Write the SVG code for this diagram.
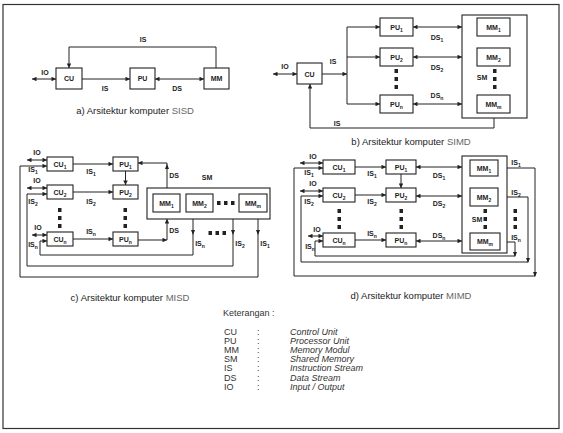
<svg xmlns="http://www.w3.org/2000/svg" width="563" height="433" viewBox="0 0 563 433">
<defs>
<style>
.b{fill:#fff;stroke:#222;stroke-width:1.1}
.l{fill:none;stroke:#222;stroke-width:1}
.a{marker-end:url(#ah)}
.d{marker-start:url(#ah);marker-end:url(#ah)}
.t{font-family:"Liberation Sans",Arial,sans-serif;font-size:7px;font-weight:bold;fill:#222;text-anchor:middle}
.s{font-size:5px}
.cap{font-family:"Liberation Sans",Arial,sans-serif;font-size:9.5px;fill:#222;text-anchor:middle}
.g{fill:#666}
.leg{font-family:"Liberation Sans",Arial,sans-serif;font-size:9px;fill:#333}
.it{font-style:italic}
.dot{fill:#222}
</style>
<marker id="ah" viewBox="0 0 6 6" refX="6" refY="3" markerWidth="5" markerHeight="4.5" orient="auto-start-reverse" markerUnits="userSpaceOnUse"><path d="M0,0 L6,3 L0,6 z" fill="#222"/></marker>
</defs>
<rect x="0" y="0" width="563" height="433" fill="#fff"/>
<rect x="3" y="4.5" width="556" height="424" fill="none" stroke="#333" stroke-width="1.2"/>

<g id="connectors">
<!-- SISD -->
<line class="l d" x1="32" y1="79" x2="56" y2="79"/>
<line class="l a" x1="82" y1="79" x2="130" y2="79"/>
<line class="l d" x1="155" y1="79" x2="204" y2="79"/>
<path class="l a" d="M216,68 V47 H69 V68"/>
<!-- SIMD -->
<line class="l d" x1="273" y1="74" x2="297" y2="74"/>
<line class="l a" x1="322" y1="74" x2="347" y2="74"/>
<line class="l" x1="347" y1="27" x2="347" y2="104"/>
<line class="l a" x1="347" y1="27" x2="380" y2="27"/>
<line class="l a" x1="347" y1="57" x2="380" y2="57"/>
<line class="l a" x1="347" y1="104" x2="380" y2="104"/>
<line class="l d" x1="413" y1="27" x2="462" y2="27"/>
<line class="l d" x1="413" y1="57" x2="462" y2="57"/>
<line class="l d" x1="413" y1="104" x2="462" y2="104"/>
<path class="l a" d="M494,118 V128 H310 V84"/>
<!-- MISD -->
<line class="l d" x1="27" y1="160" x2="47" y2="160"/>
<line class="l d" x1="27" y1="188" x2="47" y2="188"/>
<line class="l d" x1="32" y1="235" x2="47" y2="235"/>
<line class="l a" x1="73" y1="164" x2="113" y2="164"/>
<line class="l a" x1="73" y1="192" x2="113" y2="192"/>
<line class="l a" x1="73" y1="239" x2="113" y2="239"/>
<line class="l a" x1="125.5" y1="171" x2="125.5" y2="185"/>
<path class="l a" d="M167,188 V163 H138"/>
<path class="dot" d="M167,164 L165,169 L169,169 z"/>
<line class="l a" x1="138" y1="240" x2="167" y2="240"/>
<line class="l a" x1="167" y1="240" x2="167" y2="219"/>
<path class="l a" d="M258,219 V277 H20 V166 H47"/>
<path class="l a" d="M233,219 V266 H27 V194 H47"/>
<path class="l a" d="M193,219 V255 H40 V241 H47"/>
<path class="dot" d="M191,230 L195,230 L193,235 z M231,230 L235,230 L233,235 z M256,230 L260,230 L258,235 z"/>
<!-- MIMD -->
<line class="l d" x1="300" y1="163" x2="323" y2="163"/>
<line class="l d" x1="300" y1="191" x2="323" y2="191"/>
<line class="l d" x1="308" y1="236" x2="323" y2="236"/>
<line class="l a" x1="355" y1="167" x2="386" y2="167"/>
<line class="l a" x1="355" y1="195" x2="386" y2="195"/>
<line class="l a" x1="355" y1="240" x2="386" y2="240"/>
<line class="l a" x1="401" y1="174" x2="401" y2="188"/>
<line class="l d" x1="416" y1="167" x2="462" y2="167"/>
<line class="l d" x1="416" y1="196" x2="462" y2="196"/>
<line class="l d" x1="416" y1="241" x2="462" y2="241"/>
<path class="l a" d="M507,168 H535 V276 H294 V168 H323"/>
<path class="l a" d="M507,197 H528 V262 H301 V196 H323"/>
<path class="l a" d="M507,242 H515 V256 H315 V241 H323"/>
<path class="dot" d="M533,272 L537,272 L535,277 z M526,258 L530,258 L528,263 z M513,252 L517,252 L515,257 z"/>
</g>

<g id="sisd">
<g id="sisd-cu"><rect class="b" x="56" y="68" width="26" height="21"/><text class="t" x="69" y="81">CU</text></g>
<g id="sisd-pu"><rect class="b" x="130" y="68" width="25" height="21"/><text class="t" x="142.5" y="81">PU</text></g>
<g id="sisd-mm"><rect class="b" x="204" y="68" width="25" height="21"/><text class="t" x="216.5" y="81">MM</text></g>
<text class="t" x="45" y="75">IO</text>
<text class="t" x="143" y="42">IS</text>
<text class="t" x="105" y="91">IS</text>
<text class="t" x="177" y="91">DS</text>
<text class="cap" x="135" y="114">a) Arsitektur komputer <tspan class="g">SISD</tspan></text>
</g>

<g id="simd">
<g id="simd-cu"><rect class="b" x="297" y="63" width="25" height="21"/><text class="t" x="309.5" y="76.5">CU</text></g>
<g id="simd-pu1"><rect class="b" x="380" y="18" width="33" height="18"/><text class="t" x="396.5" y="29.5">PU<tspan class="s" dy="2">1</tspan></text></g>
<g id="simd-pu2"><rect class="b" x="380" y="48" width="33" height="18"/><text class="t" x="396.5" y="59.5">PU<tspan class="s" dy="2">2</tspan></text></g>
<g id="simd-pun"><rect class="b" x="380" y="95" width="33" height="18"/><text class="t" x="396.5" y="106.5">PU<tspan class="s" dy="2">n</tspan></text></g>
<path class="dot" d="M394.5,69h3.5v4h-3.5z M394.5,77h3.5v4h-3.5z M394.5,85h3.5v4h-3.5z"/>
<g id="simd-sm">
<rect class="b" x="462" y="15" width="65" height="103"/>
<g id="simd-mm1"><rect class="b" x="477" y="18" width="33" height="18"/><text class="t" x="493.5" y="29.5">MM<tspan class="s" dy="2">1</tspan></text></g>
<g id="simd-mm2"><rect class="b" x="477" y="48" width="33" height="18"/><text class="t" x="493.5" y="59.5">MM<tspan class="s" dy="2">2</tspan></text></g>
<g id="simd-mmm"><rect class="b" x="477" y="95" width="33" height="18"/><text class="t" x="493.5" y="106.5">MM<tspan class="s" dy="2">m</tspan></text></g>
<text class="t" x="482" y="80">SM</text>
<path class="dot" d="M493,69h3.5v4h-3.5z M493,77h3.5v4h-3.5z M493,85h3.5v4h-3.5z"/>
</g>
<text class="t" x="285" y="69">IO</text>
<text class="t" x="333" y="63.5">IS</text>
<text class="t" x="437" y="40">DS<tspan class="s" dy="2">1</tspan></text>
<text class="t" x="437" y="70">DS<tspan class="s" dy="2">2</tspan></text>
<text class="t" x="437" y="98">DS<tspan class="s" dy="2">n</tspan></text>
<text class="t" x="337" y="125.5">IS</text>
<text class="cap" x="411" y="145">b) Arsitektur komputer <tspan class="g">SIMD</tspan></text>
</g>

<g id="misd">
<g id="misd-cu1"><rect class="b" x="47" y="157" width="26" height="14"/><text class="t" x="60" y="166.5">CU<tspan class="s" dy="2">1</tspan></text></g>
<g id="misd-cu2"><rect class="b" x="47" y="185" width="26" height="14"/><text class="t" x="60" y="194.5">CU<tspan class="s" dy="2">2</tspan></text></g>
<g id="misd-cun"><rect class="b" x="47" y="232" width="26" height="14"/><text class="t" x="60" y="241.5">CU<tspan class="s" dy="2">n</tspan></text></g>
<g id="misd-pu1"><rect class="b" x="113" y="157" width="25" height="14"/><text class="t" x="125.5" y="166.5">PU<tspan class="s" dy="2">1</tspan></text></g>
<g id="misd-pu2"><rect class="b" x="113" y="185" width="25" height="14"/><text class="t" x="125.5" y="194.5">PU<tspan class="s" dy="2">2</tspan></text></g>
<g id="misd-pun"><rect class="b" x="113" y="232" width="25" height="14"/><text class="t" x="125.5" y="241.5">PU<tspan class="s" dy="2">n</tspan></text></g>
<path class="dot" d="M58,208h3.5v4h-3.5z M58,216h3.5v4h-3.5z M58,224h3.5v4h-3.5z M123.5,208h3.5v4h-3.5z M123.5,216h3.5v4h-3.5z M123.5,224h3.5v4h-3.5z"/>
<g id="misd-sm">
<rect class="b" x="147" y="188" width="123" height="31"/>
<g id="misd-mm1"><rect class="b" x="153" y="194" width="27" height="18"/><text class="t" x="166.5" y="205.5">MM<tspan class="s" dy="2">1</tspan></text></g>
<g id="misd-mm2"><rect class="b" x="186" y="194" width="27" height="18"/><text class="t" x="199.5" y="205.5">MM<tspan class="s" dy="2">2</tspan></text></g>
<g id="misd-mmm"><rect class="b" x="239" y="194" width="28" height="18"/><text class="t" x="253" y="205.5">MM<tspan class="s" dy="2">m</tspan></text></g>
<path class="dot" d="M217,201h3.5v4h-3.5z M224,201h3.5v4h-3.5z M231,201h3.5v4h-3.5z"/>
</g>
<text class="t" x="207" y="180">SM</text>
<text class="t" x="37" y="155">IO</text>
<text class="t" x="37" y="183">IO</text>
<text class="t" x="38" y="230">IO</text>
<text class="t" x="33" y="172">IS<tspan class="s" dy="2">1</tspan></text>
<text class="t" x="33" y="204">IS<tspan class="s" dy="2">2</tspan></text>
<text class="t" x="33" y="247">IS<tspan class="s" dy="2">n</tspan></text>
<text class="t" x="91" y="174">IS<tspan class="s" dy="2">1</tspan></text>
<text class="t" x="91" y="204">IS<tspan class="s" dy="2">2</tspan></text>
<text class="t" x="91" y="234">IS<tspan class="s" dy="2">n</tspan></text>
<text class="t" x="174" y="177.5">DS</text>
<text class="t" x="174" y="232.5">DS</text>
<path class="dot" d="M208.5,231h3.5v4h-3.5z M215.5,231h3.5v4h-3.5z M222.5,231h3.5v4h-3.5z"/>
<text class="t" x="200" y="246">IS<tspan class="s" dy="2">n</tspan></text>
<text class="t" x="240" y="246">IS<tspan class="s" dy="2">2</tspan></text>
<text class="t" x="265" y="246">IS<tspan class="s" dy="2">1</tspan></text>
<text class="cap" x="130" y="301">c) Arsitektur komputer <tspan class="g">MISD</tspan></text>
</g>

<g id="mimd">
<g id="mimd-cu1"><rect class="b" x="323" y="160" width="32" height="14"/><text class="t" x="339" y="169.5">CU<tspan class="s" dy="2">1</tspan></text></g>
<g id="mimd-cu2"><rect class="b" x="323" y="188" width="32" height="14"/><text class="t" x="339" y="197.5">CU<tspan class="s" dy="2">2</tspan></text></g>
<g id="mimd-cun"><rect class="b" x="323" y="233" width="32" height="14"/><text class="t" x="339" y="242.5">CU<tspan class="s" dy="2">n</tspan></text></g>
<g id="mimd-pu1"><rect class="b" x="386" y="160" width="30" height="14"/><text class="t" x="401" y="169.5">PU<tspan class="s" dy="2">1</tspan></text></g>
<g id="mimd-pu2"><rect class="b" x="386" y="188" width="30" height="14"/><text class="t" x="401" y="197.5">PU<tspan class="s" dy="2">2</tspan></text></g>
<g id="mimd-pun"><rect class="b" x="386" y="233" width="30" height="14"/><text class="t" x="401" y="242.5">PU<tspan class="s" dy="2">n</tspan></text></g>
<path class="dot" d="M337.5,209h3.5v4h-3.5z M337.5,217h3.5v4h-3.5z M337.5,225h3.5v4h-3.5z M399.5,209h3.5v4h-3.5z M399.5,217h3.5v4h-3.5z M399.5,225h3.5v4h-3.5z"/>
<g id="mimd-sm">
<rect class="b" x="462" y="156" width="45" height="97"/>
<g id="mimd-mm1"><rect class="b" x="470" y="160" width="28" height="16"/><text class="t" x="484" y="170.5">MM<tspan class="s" dy="2">1</tspan></text></g>
<g id="mimd-mm2"><rect class="b" x="470" y="188" width="28" height="18"/><text class="t" x="484" y="199.5">MM<tspan class="s" dy="2">2</tspan></text></g>
<g id="mimd-mmm"><rect class="b" x="470" y="233" width="30" height="17"/><text class="t" x="485" y="244">MM<tspan class="s" dy="2">m</tspan></text></g>
<text class="t" x="477" y="222">SM</text>
<path class="dot" d="M483.5,209h3.5v4h-3.5z M483.5,217h3.5v4h-3.5z M483.5,225h3.5v4h-3.5z"/>
</g>
<path class="dot" d="M513.5,209h3.5v4h-3.5z M513.5,217h3.5v4h-3.5z M513.5,225h3.5v4h-3.5z"/>
<text class="t" x="313" y="159">IO</text>
<text class="t" x="313" y="186">IO</text>
<text class="t" x="317" y="232">IO</text>
<text class="t" x="309" y="175">IS<tspan class="s" dy="2">1</tspan></text>
<text class="t" x="309" y="204">IS<tspan class="s" dy="2">2</tspan></text>
<text class="t" x="310" y="249">IS<tspan class="s" dy="2">n</tspan></text>
<text class="t" x="372" y="176">IS<tspan class="s" dy="2">1</tspan></text>
<text class="t" x="372" y="204">IS<tspan class="s" dy="2">2</tspan></text>
<text class="t" x="372" y="236">IS<tspan class="s" dy="2">n</tspan></text>
<text class="t" x="439" y="177.5">DS<tspan class="s" dy="2">1</tspan></text>
<text class="t" x="439" y="205.5">DS<tspan class="s" dy="2">2</tspan></text>
<text class="t" x="439" y="237.5">DS<tspan class="s" dy="2">n</tspan></text>
<text class="t" x="516" y="164.5">IS<tspan class="s" dy="2">1</tspan></text>
<text class="t" x="516" y="194.5">IS<tspan class="s" dy="2">2</tspan></text>
<text class="t" x="516" y="239.5">IS<tspan class="s" dy="2">n</tspan></text>
<text class="cap" x="411" y="299">d) Arsitektur komputer <tspan class="g">MIMD</tspan></text>
</g>

<g id="legend" class="leg">
<text x="223" y="316">Keterangan :</text>
<text x="224" y="335">CU</text><text x="257" y="335">:</text><text class="it" x="290" y="335">Control Unit</text>
<text x="224" y="343.5">PU</text><text x="257" y="343.5">:</text><text class="it" x="290" y="343.5">Processor Unit</text>
<text x="224" y="353">MM</text><text x="257" y="353">:</text><text class="it" x="290" y="353">Memory Modul</text>
<text x="224" y="361.5">SM</text><text x="257" y="361.5">:</text><text class="it" x="290" y="361.5">Shared Memory</text>
<text x="224" y="371">IS</text><text x="257" y="371">:</text><text class="it" x="290" y="371">Instruction Stream</text>
<text x="224" y="380.5">DS</text><text x="257" y="380.5">:</text><text class="it" x="290" y="380.5">Data Stream</text>
<text x="224" y="390">IO</text><text x="257" y="390">:</text><text class="it" x="290" y="390">Input / Output</text>
</g>
</svg>
